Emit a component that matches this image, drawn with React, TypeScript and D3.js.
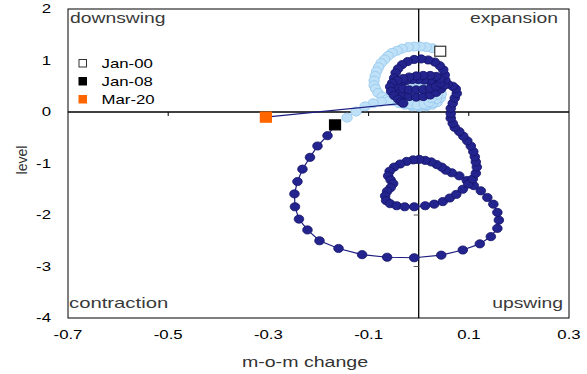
import React from "react";
import * as d3 from "d3";

// axis ticks
const xTicks = [-0.7, -0.5, -0.3, -0.1, 0.1, 0.3];
const yTicks = [2, 1, 0, -1, -2, -3, -4];
const quadrantLabels = ["downswing", "expansion", "contraction", "upswing"];

// Jan-00 .. Dec-07 (m-o-m change, level)
const path2000s: [number, number][] = [
  [0.043, 1.18], [0.027, 1.24], [0.015, 1.26], [0.003, 1.27], [-0.009, 1.27], [-0.021, 1.26],
  [-0.033, 1.23], [-0.043, 1.19], [-0.053, 1.15], [-0.061, 1.09], [-0.068, 1.02], [-0.075, 0.95],
  [-0.08, 0.87], [-0.084, 0.79], [-0.087, 0.7], [-0.089, 0.61], [-0.089, 0.52], [-0.086, 0.45],
  [-0.081, 0.37], [-0.073, 0.3], [-0.063, 0.25], [-0.051, 0.21], [-0.039, 0.17], [-0.027, 0.14],
  [-0.013, 0.11], [0.001, 0.1], [0.015, 0.11], [0.027, 0.14], [0.037, 0.19], [0.043, 0.27],
  [0.045, 0.35], [0.041, 0.43], [0.033, 0.49], [0.021, 0.52], [0.007, 0.54], [-0.007, 0.53],
  [-0.019, 0.5], [-0.029, 0.46], [-0.035, 0.39], [-0.037, 0.31], [-0.033, 0.23], [-0.025, 0.17],
  [-0.013, 0.14], [0.001, 0.12], [0.015, 0.13], [0.027, 0.17], [0.035, 0.25], [0.037, 0.33],
  [0.031, 0.41], [0.019, 0.45], [0.005, 0.46], [-0.009, 0.44], [-0.021, 0.39], [-0.029, 0.32],
  [-0.031, 0.25], [-0.027, 0.19], [-0.017, 0.15], [-0.003, 0.13], [0.011, 0.15], [0.021, 0.19],
  [0.025, 0.27], [0.019, 0.34], [0.007, 0.37], [-0.007, 0.36], [-0.019, 0.32], [-0.029, 0.27],
  [-0.043, 0.23], [-0.059, 0.22], [-0.075, 0.2], [-0.091, 0.17], [-0.107, 0.11], [-0.125, 0.01],
  [-0.143, -0.11],
];

// Jan-08 .. Feb-20
const path2008s: [number, number][] = [
  [-0.167, -0.25], [-0.182, -0.46], [-0.202, -0.66], [-0.217, -0.88], [-0.232, -1.11], [-0.242, -1.35],
  [-0.248, -1.59], [-0.247, -1.84], [-0.239, -2.08], [-0.222, -2.29], [-0.198, -2.5], [-0.16, -2.65],
  [-0.113, -2.77], [-0.063, -2.82], [-0.009, -2.83], [0.045, -2.78], [0.088, -2.68], [0.122, -2.56],
  [0.144, -2.42], [0.157, -2.26], [0.16, -2.1], [0.157, -1.95], [0.149, -1.79], [0.137, -1.66],
  [0.124, -1.53], [0.11, -1.43], [0.096, -1.33], [0.081, -1.24], [0.066, -1.18], [0.054, -1.13],
  [0.046, -1.07], [0.036, -1.02], [0.025, -0.97], [0.013, -0.94], [0.001, -0.92], [-0.011, -0.93],
  [-0.024, -0.96], [-0.037, -1.01], [-0.049, -1.07], [-0.058, -1.15], [-0.061, -1.24], [-0.056, -1.32],
  [-0.051, -1.39], [-0.056, -1.47], [-0.063, -1.54], [-0.067, -1.63], [-0.065, -1.72], [-0.057, -1.78],
  [-0.044, -1.82], [-0.028, -1.84], [-0.009, -1.84], [0.013, -1.82], [0.031, -1.79], [0.048, -1.74],
  [0.062, -1.67], [0.075, -1.6], [0.088, -1.5], [0.099, -1.4], [0.108, -1.3], [0.114, -1.19],
  [0.116, -1.07], [0.114, -0.97], [0.112, -0.87], [0.109, -0.77], [0.104, -0.66], [0.097, -0.56],
  [0.089, -0.47], [0.081, -0.38], [0.072, -0.3], [0.068, -0.22], [0.064, -0.12], [0.064, -0.03],
  [0.064, 0.07], [0.068, 0.17], [0.072, 0.27], [0.076, 0.36], [0.074, 0.45], [0.068, 0.5],
  [0.058, 0.54], [0.047, 0.56], [0.035, 0.58], [0.023, 0.6], [0.011, 0.62], [-0.001, 0.63],
  [-0.013, 0.63], [-0.025, 0.61], [-0.035, 0.57], [-0.043, 0.51], [-0.045, 0.45], [-0.041, 0.38],
  [-0.031, 0.33], [-0.019, 0.3], [-0.005, 0.29], [0.009, 0.3], [0.023, 0.33], [0.035, 0.38],
  [0.045, 0.45], [0.051, 0.52], [0.053, 0.62], [0.052, 0.72], [0.049, 0.82], [0.042, 0.9],
  [0.032, 0.97], [0.019, 1.01], [0.005, 1.03], [-0.009, 1.02], [-0.022, 0.98], [-0.033, 0.92],
  [-0.041, 0.84], [-0.046, 0.76], [-0.049, 0.66], [-0.047, 0.57], [-0.041, 0.5], [-0.031, 0.45],
  [-0.019, 0.43], [-0.005, 0.43], [0.009, 0.44], [0.023, 0.46], [0.035, 0.5], [0.043, 0.56],
  [0.043, 0.64], [0.035, 0.69], [0.023, 0.71], [0.009, 0.71], [-0.005, 0.7], [-0.019, 0.68],
  [-0.031, 0.65], [-0.043, 0.61], [-0.053, 0.56], [-0.057, 0.49], [-0.055, 0.4], [-0.049, 0.32],
  [-0.041, 0.25], [-0.035, 0.2], [-0.031, 0.17],
];

const highlightNames = ["Jan-00", "Jan-08", "Mar-20"];
const highlightPoints: [number, number][] = [[0.043, 1.18], [-0.167, -0.25], [-0.305, -0.1]];
const highlightFill = ["#ffffff", "#000000", "#ff6600"];
const highlightStroke = ["#333333", "#000000", "#ff6600"];

const W = 587;
const H = 374;
const FONT = "Liberation Sans, Arial, sans-serif";

const SText = ({ x, y, anchor = "start", size = 12, fill = "#000", sx = 1.4, children }: any) => (
  <text
    transform={`translate(${x},${y}) scale(${sx},1)`}
    textAnchor={anchor}
    fontSize={size}
    fontFamily={FONT}
    fill={fill}
  >
    {children}
  </text>
);

export default function App() {
  const x = d3.scaleLinear().domain([-0.7, 0.3]).range([68, 569]);
  const y = d3.scaleLinear().domain([-4, 2]).range([318, 9]);
  const line = d3
    .line<[number, number]>()
    .x((d) => x(d[0]))
    .y((d) => y(d[1]));

  const x0 = x(0);
  const y0 = y(0);
  const darkWithEnd = [...path2008s, highlightPoints[2]];

  return (
    <svg
      width={W}
      height={H}
      style={{ position: "fixed", left: 0, top: 0, background: "#fff" }}
    >
      <rect x={0} y={0} width={W} height={H} fill="#fff" />
      <rect x={68} y={9} width={501} height={309} fill="none" stroke="#000" strokeWidth={1} />
      <line x1={x0} x2={x0} y1={9} y2={318} stroke="#000" strokeWidth={1.3} />
      <line x1={68} x2={569} y1={y0} y2={y0} stroke="#000" strokeWidth={1.3} />

      {xTicks.slice(1, -1).map((t) => (
        <line key={t} x1={x(t)} x2={x(t)} y1={y0} y2={y0 + 4} stroke="#000" />
      ))}
      {[1, -1, -2, -3].map((t) => (
        <line key={t} x1={x0 - 5} x2={x0} y1={y(t)} y2={y(t)} stroke="#555" />
      ))}

      {/* y tick labels */}
      {yTicks.map((t) => (
        <SText key={t} x={51} y={y(t) + 4} anchor="end" size={12}>
          {t}
        </SText>
      ))}
      {/* x tick labels */}
      {xTicks.map((t) => (
        <SText key={t} x={x(t)} y={339} anchor="middle" size={12}>
          {t}
        </SText>
      ))}

      <SText x={305} y={367} anchor="middle" size={14} fill="#333">
        m-o-m change
      </SText>
      <text
        transform="translate(27,160) rotate(-90)"
        textAnchor="middle"
        fontSize={14}
        fontFamily={FONT}
        fill="#333"
      >
        level
      </text>

      {/* quadrant labels */}
      <SText x={70} y={23} size={14} sx={1.38} fill="#3a3a3a">{quadrantLabels[0]}</SText>
      <SText x={558} y={23} anchor="end" size={14} sx={1.38} fill="#3a3a3a">{quadrantLabels[1]}</SText>
      <SText x={69} y={308} size={14} sx={1.45} fill="#3a3a3a">{quadrantLabels[2]}</SText>
      <SText x={563} y={308} anchor="end" size={14} sx={1.38} fill="#3a3a3a">{quadrantLabels[3]}</SText>

      {/* 2000s series */}
      <path d={line(path2000s) || ""} fill="none" stroke="#a9d3f3" strokeWidth={1} />
      {path2000s.map((d, i) => (
        <ellipse key={i} cx={x(d[0])} cy={y(d[1])} rx={5.2} ry={4.5} fill="#bfe1f8" stroke="#93c7ee" strokeWidth={0.8} />
      ))}

      {/* 2008s series */}
      <path d={line(darkWithEnd) || ""} fill="none" stroke="#1c1c80" strokeWidth={1.2} />
      {path2008s.map((d, i) => (
        <ellipse key={i} cx={x(d[0])} cy={y(d[1])} rx={4.8} ry={4.1} fill="#24248f" stroke="#14146a" strokeWidth={0.8} />
      ))}

      {/* highlighted months */}
      {highlightPoints.map((d, i) => (
        <rect
          key={i}
          x={x(d[0]) - 5.5}
          y={y(d[1]) - 5}
          width={11}
          height={10}
          fill={highlightFill[i]}
          stroke={highlightStroke[i]}
          strokeWidth={1.2}
        />
      ))}

      {/* legend */}
      {highlightNames.map((n, i) => (
        <g key={n}>
          <rect
            x={79}
            y={59.5 + i * 18}
            width={7.5}
            height={7.5}
            fill={highlightFill[i]}
            stroke={highlightStroke[i]}
            strokeWidth={1}
          />
          <SText x={101.5} y={67.5 + i * 18} size={12}>
            {n}
          </SText>
        </g>
      ))}
    </svg>
  );
}
